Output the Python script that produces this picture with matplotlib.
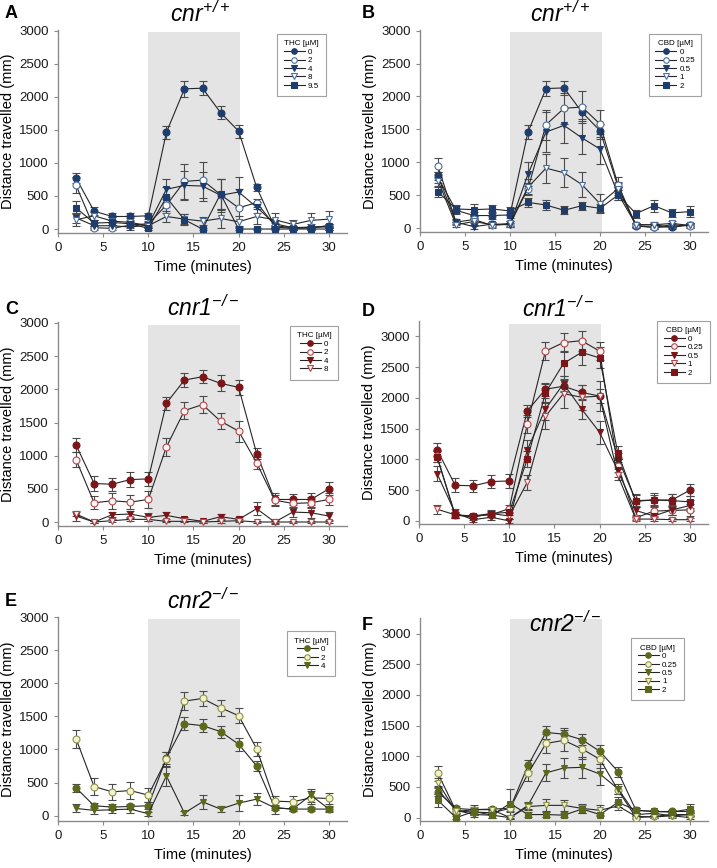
import numpy as np
import matplotlib
matplotlib.use('Agg')
from matplotlib import pyplot as plt

plt.rcParams['font.family'] = ['Liberation Sans', 'DejaVu Sans']
# titles are the only mathtext, and they are fully italic
plt.rcParams['mathtext.fontset'] = 'custom'
plt.rcParams['mathtext.it'] = 'Liberation Sans:italic'
plt.rcParams['mathtext.rm'] = 'Liberation Sans:italic'

time_min = [2, 4, 6, 8, 10, 12, 14, 16, 18, 20, 22, 24, 26, 28, 30]

# ---- panel A : cnr+/+ , THC
thc_wt_labels = ['0', '2', '4', '8', '9.5']
thc_wt_mean = [
    [770, 270, 190, 190, 200, 1460, 2120, 2130, 1760, 1480, 630, 30, 10, 20, 50],
    [660, 20, 10, 60, 80, 360, 720, 740, 520, 320, 400, 50, 20, 30, 30],
    [170, 50, 50, 30, 60, 600, 660, 650, 510, 560, 330, 80, 20, 20, 50],
    [140, 200, 120, 100, 50, 190, 150, 120, 160, 110, 190, 140, 70, 130, 150],
    [320, 90, 100, 80, 10, 480, 140, 0, 530, 0, 0, 0, 0, 0, 0],
]
thc_wt_sem = [
    [80, 60, 50, 50, 50, 100, 120, 110, 100, 100, 50, 30, 20, 20, 20],
    [120, 30, 20, 40, 40, 120, 260, 270, 230, 280, 60, 40, 30, 40, 40],
    [80, 40, 40, 40, 40, 150, 220, 220, 250, 220, 80, 60, 30, 30, 30],
    [100, 60, 60, 60, 40, 90, 80, 60, 140, 80, 120, 100, 60, 120, 120],
    [100, 50, 40, 40, 20, 150, 80, 20, 230, 20, 20, 20, 20, 20, 20],
]

# ---- panel B : cnr+/+ , CBD
cbd_wt_labels = ['0', '0.25', '0.5', '1', '2']
cbd_wt_mean = [
    [770, 270, 190, 190, 200, 1460, 2120, 2130, 1760, 1480, 630, 30, 10, 20, 50],
    [940, 90, 130, 40, 60, 600, 1570, 1820, 1840, 1580, 660, 40, 10, 50, 30],
    [790, 90, 20, 60, 50, 820, 1460, 1560, 1370, 1200, 520, 50, 50, 10, 50],
    [720, 50, 100, 50, 70, 620, 910, 840, 660, 370, 600, 50, 50, 70, 40],
    [550, 290, 280, 290, 260, 390, 350, 270, 340, 300, 500, 220, 340, 230, 250],
]
cbd_wt_sem = [
    [80, 60, 50, 50, 50, 100, 120, 110, 100, 100, 50, 30, 20, 20, 20],
    [120, 40, 60, 40, 40, 90, 230, 240, 250, 220, 120, 30, 20, 30, 30],
    [60, 30, 30, 30, 30, 180, 300, 260, 250, 230, 100, 30, 30, 30, 30],
    [80, 40, 50, 40, 40, 120, 220, 220, 190, 140, 100, 30, 40, 30, 40],
    [80, 60, 80, 60, 60, 70, 70, 60, 60, 60, 80, 60, 90, 60, 80],
]

# ---- panel C : cnr1-/- , THC
thc_cnr1_labels = ['0', '2', '4', '8']
thc_cnr1_mean = [
    [1160, 580, 570, 640, 650, 1790, 2140, 2190, 2090, 2030, 1030, 340, 340, 340, 500],
    [940, 290, 320, 300, 340, 1130, 1680, 1770, 1520, 1370, 890, 330, 280, 290, 340],
    [90, 0, 110, 120, 70, 100, 50, 10, 80, 40, 200, 0, 150, 140, 90],
    [120, 0, 20, 40, 40, 10, 10, 0, 10, 20, 0, 0, 0, 0, 0],
]
thc_cnr1_sem = [
    [110, 110, 100, 110, 110, 100, 110, 100, 120, 110, 80, 100, 80, 90, 100],
    [110, 100, 120, 110, 130, 130, 130, 130, 120, 160, 90, 80, 70, 80, 90],
    [80, 20, 40, 50, 60, 50, 30, 20, 40, 30, 100, 30, 70, 80, 60],
    [30, 10, 20, 20, 30, 10, 10, 10, 20, 20, 10, 10, 10, 10, 10],
]

# ---- panel D : cnr1-/- , CBD
cbd_cnr1_labels = ['0', '0.25', '0.5', '1', '2']
cbd_cnr1_mean = [
    [1160, 580, 570, 640, 650, 1790, 2140, 2190, 2090, 2030, 1030, 330, 340, 340, 500],
    [1050, 100, 80, 100, 200, 1580, 2760, 2900, 2930, 2760, 900, 50, 160, 170, 180],
    [770, 130, 20, 60, 0, 1160, 1820, 2230, 1820, 1440, 820, 170, 80, 180, 250],
    [190, 100, 60, 120, 80, 630, 1700, 2070, 2010, 2030, 750, 30, 30, 20, 20],
    [1040, 90, 80, 120, 140, 1010, 2080, 2560, 2740, 2650, 1110, 320, 340, 330, 310],
]
cbd_cnr1_sem = [
    [110, 110, 100, 110, 110, 100, 110, 100, 120, 110, 80, 100, 80, 90, 100],
    [100, 50, 40, 40, 60, 150, 150, 150, 160, 150, 100, 30, 80, 80, 100],
    [120, 60, 30, 40, 30, 160, 180, 120, 170, 190, 100, 80, 50, 80, 90],
    [70, 50, 40, 40, 50, 120, 210, 230, 200, 250, 90, 30, 30, 20, 20],
    [90, 40, 40, 50, 50, 130, 150, 200, 200, 170, 110, 100, 110, 100, 100],
]

# ---- panel E : cnr2-/- , THC
thc_cnr2_labels = ['0', '2', '4']
thc_cnr2_mean = [
    [420, 150, 130, 140, 150, 870, 1390, 1360, 1270, 1080, 750, 120, 100, 100, 100],
    [1160, 440, 360, 380, 310, 850, 1730, 1770, 1630, 1510, 1010, 220, 210, 270, 260],
    [110, 80, 90, 100, 30, 600, 40, 210, 100, 190, 250, 120, 100, 310, 100],
]
thc_cnr2_sem = [
    [60, 40, 40, 40, 50, 90, 100, 100, 90, 100, 80, 40, 30, 30, 30],
    [140, 130, 120, 130, 110, 110, 140, 120, 120, 110, 110, 80, 80, 100, 90],
    [60, 60, 50, 60, 30, 150, 30, 110, 40, 120, 90, 90, 30, 100, 50],
]

# ---- panel F : cnr2-/- , CBD
cbd_cnr2_labels = ['0', '0.25', '0.5', '1', '2']
cbd_cnr2_mean = [
    [420, 150, 130, 140, 150, 850, 1390, 1360, 1270, 1080, 750, 120, 100, 100, 100],
    [720, 110, 90, 80, 150, 720, 1210, 1260, 1120, 950, 450, 0, 20, 50, 50],
    [450, 120, 50, 40, 0, 200, 730, 810, 820, 710, 470, 50, 70, 30, 50],
    [570, 100, 130, 130, 0, 180, 200, 200, 150, 120, 190, 20, 10, 30, 0],
    [280, 0, 100, 40, 230, 50, 50, 40, 140, 50, 250, 120, 100, 90, 140],
]
cbd_cnr2_sem = [
    [60, 40, 40, 40, 50, 90, 100, 100, 90, 100, 80, 40, 30, 30, 30],
    [120, 40, 40, 40, 60, 130, 160, 170, 160, 140, 70, 20, 20, 20, 30],
    [60, 40, 40, 40, 30, 60, 140, 160, 170, 170, 80, 30, 30, 30, 40],
    [70, 40, 70, 50, 20, 60, 100, 90, 80, 80, 60, 20, 20, 20, 20],
    [110, 30, 60, 40, 240, 40, 40, 30, 70, 30, 80, 40, 30, 30, 90],
]

# marker style per series slot: (marker, filled?)
styles_5 = [('o', True), ('o', False), ('v', True), ('v', False), ('s', True)]

palettes = {
    'blue': dict(dark='#1d3d6e', edge='#4c6e9e', face='#ffffff'),
    'red': dict(dark='#7c1518', edge='#b4474b', face='#fff4f4'),
    'olive': dict(dark='#5b6a1a', edge='#8e9245', face='#f2f2cf'),
}


def figpx(fig, x, y):
    # pixel position (from top-left) to figure fraction
    w, h = fig.get_size_inches() * fig.dpi
    return x / w, 1 - y / h


def plot_panel(fig, rect, letter, letter_xy, title, title_xy, means, sems, labels,
               legend_title, palette, ylim, legend_anchor, span_top):
    ax = fig.add_axes(rect)
    pal = palettes[palette]

    ax.fill_between([10, 20.2], ylim[0], span_top, color='#e4e4e4', lw=0, zorder=0)

    for i, (m, s, lab) in enumerate(zip(means, sems, labels)):
        marker, filled = styles_5[i]
        face = pal['dark'] if filled else pal['face']
        edge = pal['dark'] if filled else pal['edge']
        ax.errorbar(time_min, m, yerr=s, fmt='none', ecolor='#4a4a4a',
                    elinewidth=0.8, capsize=3, capthick=0.8, zorder=2)
        ax.plot(time_min, m, color='#262626', lw=0.8, marker=marker,
                markersize=5, markerfacecolor=face, markeredgecolor=edge,
                markeredgewidth=0.8, label=lab, zorder=3)

    ax.set_xlim(0, 32)
    ax.set_ylim(*ylim)
    ax.set_xticks([0, 5, 10, 15, 20, 25, 30])
    ax.set_yticks([0, 500, 1000, 1500, 2000, 2500, 3000])
    for side in ['top', 'right']:
        ax.spines[side].set_visible(False)
    for side in ['left', 'bottom']:
        ax.spines[side].set_color('#8a8a8a')
        ax.spines[side].set_linewidth(1.0)
    ax.tick_params(direction='out', length=3, color='#8a8a8a', labelsize=9.5,
                   labelcolor='#1a1a1a')
    ax.set_xlabel('Time (minutes)', fontsize=10.5)
    ax.set_ylabel('Distance travelled (mm)', fontsize=10.5, labelpad=3)

    leg = ax.legend(title=legend_title, loc='upper left', bbox_to_anchor=legend_anchor,
                    fontsize=5.8, title_fontsize=5.8, frameon=True, fancybox=False,
                    edgecolor='#8a8a8a', handlelength=2.6, handletextpad=0.4,
                    labelspacing=0.1, borderpad=0.8, markerscale=0.8)
    leg.get_frame().set_linewidth(0.8)

    lx, ly = figpx(fig, *letter_xy)
    fig.text(lx, ly, letter, fontsize=13, fontweight='bold', ha='left', va='center')
    tx, ty = figpx(fig, *title_xy)
    fig.text(tx, ty, title, fontsize=16.5, ha='center', va='center')
    return ax


def make_figure():
    fig = plt.figure(figsize=(7.17, 8.68), dpi=100)

    def rect(left, top, right, bottom):
        x0, y1 = figpx(fig, left, top)
        x1, y0 = figpx(fig, right, bottom)
        return [x0, y0, x1 - x0, y1 - y0]

    wt = r'$cnr^{+/+}$'
    ko1 = r'$cnr1^{-/-}$'
    ko2 = r'$cnr2^{-/-}$'

    plot_panel(fig, rect(58, 30, 347, 233), 'A', (5, 14), wt, (200, 14),
               thc_wt_mean, thc_wt_sem, thc_wt_labels, u'THC [\u00b5M]', 'blue',
               (-60, 3010), (0.745, 1.0), 2985)
    plot_panel(fig, rect(420, 30, 708, 232), 'B', (362, 14), wt, (560, 14),
               cbd_wt_mean, cbd_wt_sem, cbd_wt_labels, u'CBD [\u00b5M]', 'blue',
               (-60, 3010), (0.78, 1.0), 2985)
    plot_panel(fig, rect(58, 322, 347, 526), 'C', (5, 309), ko1, (203, 308),
               thc_cnr1_mean, thc_cnr1_sem, thc_cnr1_labels, u'THC [\u00b5M]', 'red',
               (-60, 3015), (0.79, 1.0), 2975)
    plot_panel(fig, rect(419, 321, 708, 524), 'D', (362, 311), ko1, (558, 309),
               cbd_cnr1_mean, cbd_cnr1_sem, cbd_cnr1_labels, u'CBD [\u00b5M]', 'red',
               (-50, 3250), (0.81, 1.02), 3205)
    plot_panel(fig, rect(58, 617, 347, 821), 'E', (5, 601), ko2, (203, 601),
               thc_cnr2_mean, thc_cnr2_sem, thc_cnr2_labels, u'THC [\u00b5M]', 'olive',
               (-80, 3000), (0.78, 0.95), 2975)
    plot_panel(fig, rect(420, 618, 708, 821), 'F', (362, 625), ko2, (565, 624),
               cbd_cnr2_mean, cbd_cnr2_sem, cbd_cnr2_labels, u'CBD [\u00b5M]', 'olive',
               (-55, 3255), (0.72, 0.92), 3235)

    fig.savefig('out.png', dpi=100)


make_figure()
